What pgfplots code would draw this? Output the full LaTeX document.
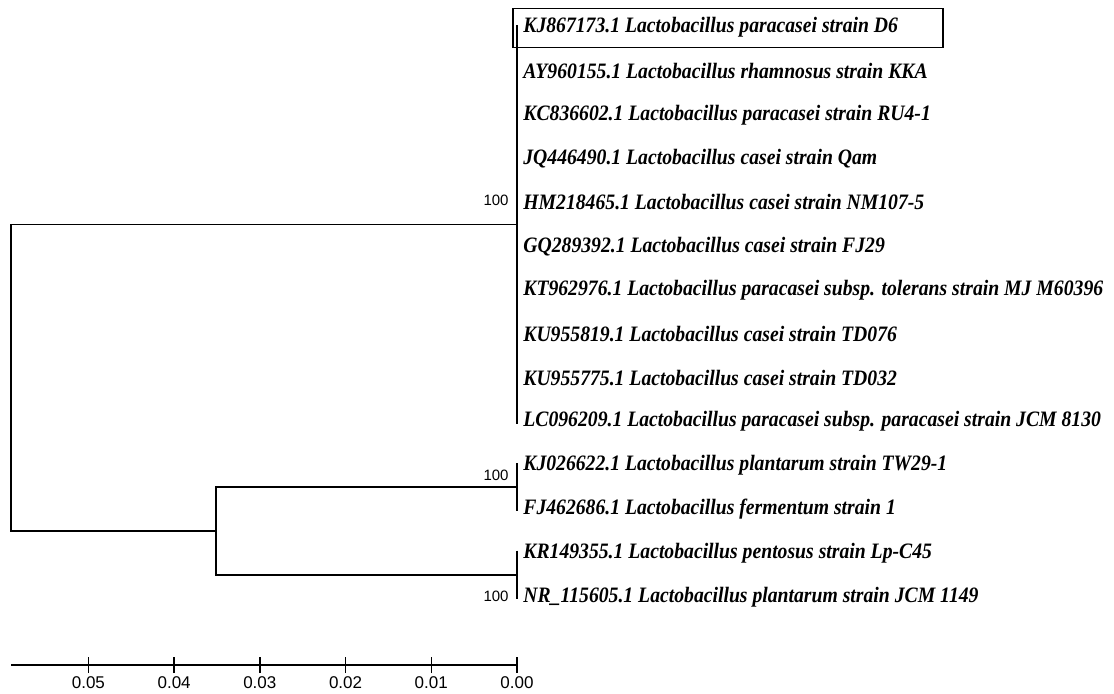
\documentclass[border=0pt]{standalone}
\usepackage{pgfplots}
\pgfplotsset{compat=1.18}
\usepackage{fontspec}
\setmainfont{Liberation Serif}
\newfontfamily\arial{Liberation Sans}
\newfontfamily\leaffont{Liberation Serif}[FakeStretch=0.895]
\newcommand{\lf}{\leaffont\bfseries\itshape\fontsize{11}{13}\selectfont}
\newcommand{\nf}{\arial\fontsize{7.5}{9}\selectfont}
\newcommand{\tf}{\arial\fontsize{8.5}{10}\selectfont}
\begin{document}
\begin{tikzpicture}
\begin{axis}[
  name=ax,
  at={(0,0)}, anchor=south west,
  scale only axis,
  width=253pt, height=332.5pt,
  x dir=reverse,
  xmin=0, xmax=0.05903,
  ymin=-15.559, ymax=-0.3767,
  axis x line*=bottom,
  axis y line=none,
  clip=false,
  scaled x ticks=false,
  xtick={0,0.01,0.02,0.03,0.04,0.05},
  xticklabels={0.00,0.01,0.02,0.03,0.04,0.05},
  tick align=center,
  major tick length=8pt,
  x tick label style={font=\tf, yshift=1.5pt},
  axis line style={line width=0.75pt},
  every tick/.style={line width=0.75pt, black},
  tick pos=left,
]
% tree
\addplot[black, line width=0.75pt, line join=miter] coordinates {(0,-5.5) (0.05903,-5.5) (0.05903,-12.5) (0.0351,-12.5)};
\addplot[black, line width=0.75pt] coordinates {(0,-0.95) (0,-10.05)};
\addplot[black, line width=0.75pt, line join=miter] coordinates {(0,-11.5) (0.0351,-11.5) (0.0351,-13.5) (0,-13.5)};
\addplot[black, line width=0.75pt] coordinates {(0,-10.95) (0,-12.05)};
\addplot[black, line width=0.75pt] coordinates {(0,-12.95) (0,-14.05)};
% leaf labels
\node[anchor=west, inner sep=0pt, xshift=3pt] at (axis cs:0,-1) {\lf KJ867173.1 Lactobacillus paracasei strain D6};
\node[anchor=west, inner sep=0pt, xshift=3pt] at (axis cs:0,-2) {\lf AY960155.1 Lactobacillus rhamnosus strain KKA};
\node[anchor=west, inner sep=0pt, xshift=3pt] at (axis cs:0,-3) {\lf KC836602.1 Lactobacillus paracasei strain RU4-1};
\node[anchor=west, inner sep=0pt, xshift=3pt] at (axis cs:0,-4) {\lf JQ446490.1 Lactobacillus casei strain Qam};
\node[anchor=west, inner sep=0pt, xshift=3pt] at (axis cs:0,-5) {\lf HM218465.1 Lactobacillus casei strain NM107-5};
\node[anchor=west, inner sep=0pt, xshift=3pt] at (axis cs:0,-6) {\lf GQ289392.1 Lactobacillus casei strain FJ29};
\node[anchor=west, inner sep=0pt, xshift=3pt] at (axis cs:0,-7) {\lf KT962976.1 Lactobacillus paracasei subsp. tolerans strain MJ M60396};
\node[anchor=west, inner sep=0pt, xshift=3pt] at (axis cs:0,-8) {\lf KU955819.1 Lactobacillus casei strain TD076};
\node[anchor=west, inner sep=0pt, xshift=3pt] at (axis cs:0,-9) {\lf KU955775.1 Lactobacillus casei strain TD032};
\node[anchor=west, inner sep=0pt, xshift=3pt] at (axis cs:0,-10) {\lf LC096209.1 Lactobacillus paracasei subsp. paracasei strain JCM 8130};
\node[anchor=west, inner sep=0pt, xshift=3pt] at (axis cs:0,-11) {\lf KJ026622.1 Lactobacillus plantarum strain TW29-1};
\node[anchor=west, inner sep=0pt, xshift=3pt] at (axis cs:0,-12) {\lf FJ462686.1 Lactobacillus fermentum strain 1};
\node[anchor=west, inner sep=0pt, xshift=3pt] at (axis cs:0,-13) {\lf KR149355.1 Lactobacillus pentosus strain Lp-C45};
\node[anchor=west, inner sep=0pt, xshift=3pt] at (axis cs:0,-14) {\lf NR\_115605.1 Lactobacillus plantarum strain JCM 1149};
% bootstrap values
\node[anchor=east, inner sep=0pt, xshift=-4pt] at (axis cs:0,-4.94) {\nf 100};
\node[anchor=east, inner sep=0pt, xshift=-4pt] at (axis cs:0,-11.22) {\nf 100};
\node[anchor=east, inner sep=0pt, xshift=-4pt] at (axis cs:0,-14.0) {\nf 100};
\end{axis}
% highlight box (pixel coords: x 513..943, y 8.5..47.5; origin at pixel (11,665), 1px=0.5pt)
\draw[line width=0.75pt] (251pt,308.75pt) rectangle (466pt,328.25pt);
\pgfresetboundingbox
\useasboundingbox (-5.5pt,-14pt) rectangle (551.5pt,332.5pt);
\end{tikzpicture}
\end{document}
